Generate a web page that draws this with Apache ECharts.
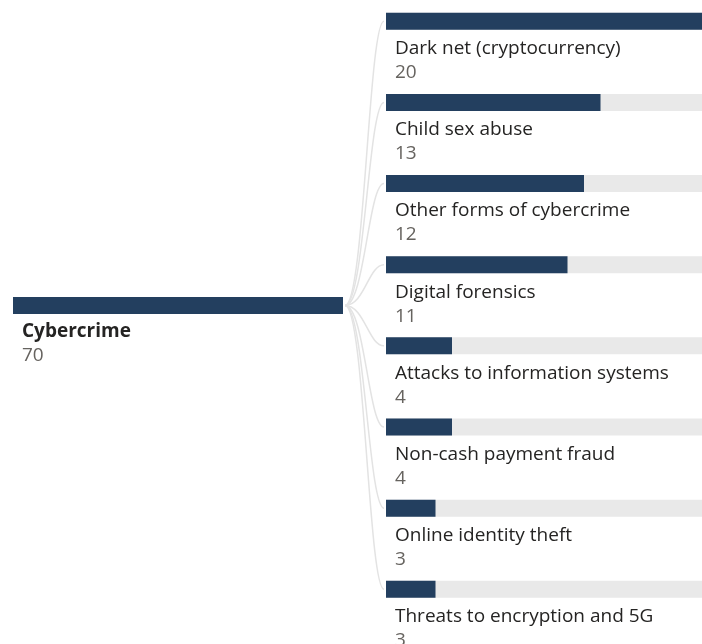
<!DOCTYPE html>
<html>
<head>
<meta charset="utf-8">
<style>
  html, body { margin: 0; padding: 0; background: #ffffff; }
  #chart { width: 702px; height: 644px; }
</style>
<script src="https://cdn.jsdelivr.net/npm/echarts@6/dist/echarts.min.js"></script>
</head>
<body>
<div id="chart"></div>
<script>
// Decomposition tree: total on the left, breakdown by crime type on the right
const rootName = 'Cybercrime';
const rootValue = 70;
const categories = [
  'Dark net (cryptocurrency)',
  'Child sex abuse',
  'Other forms of cybercrime',
  'Digital forensics',
  'Attacks to information systems',
  'Non-cash payment fraud',
  'Online identity theft',
  'Threats to encryption and 5G'
];
const values = [20, 13, 12, 11, 4, 4, 3, 3];

const FONT = '"Open Sans", "Noto Sans", sans-serif';
const NAVY = '#233f5f';
const TRACK = '#e9e9e9';
const LINK = '#e3e3e3';

const labelRich = {
  name: { fontFamily: FONT, fontSize: 19, lineHeight: 24, color: '#252423' },
  nameBold: { fontFamily: FONT, fontSize: 19, lineHeight: 24, color: '#252423', fontWeight: 'bold' },
  val: { fontFamily: FONT, fontSize: 19, lineHeight: 24, color: '#66635f' }
};

const maxChild = Math.max.apply(null, values);
const band = 81.14;
const trackWidth = 330;

const chart = echarts.init(document.getElementById('chart'), null, { renderer: 'canvas' });

const option = {
  animation: false,
  backgroundColor: '#ffffff',
  grid: [
    { left: 13, width: trackWidth, top: 280, height: 51, containLabel: false, outerBoundsMode: 'none' },
    { left: 386, width: trackWidth, top: 21.3, height: band * (categories.length - 1), containLabel: false, outerBoundsMode: 'none' }
  ],
  xAxis: [
    { gridIndex: 0, type: 'value', min: 0, max: rootValue, show: false },
    { gridIndex: 1, type: 'value', min: 0, max: maxChild, show: false }
  ],
  yAxis: [
    { gridIndex: 0, type: 'category', data: [rootName], show: false },
    { gridIndex: 1, type: 'category', data: categories, inverse: true, boundaryGap: false, show: false }
  ],
  series: [
    {
      type: 'bar',
      xAxisIndex: 0,
      yAxisIndex: 0,
      barWidth: 17,
      clip: false,
      data: [rootValue],
      itemStyle: { color: NAVY },
      label: {
        show: true,
        position: [9, 23],
        align: 'left',
        verticalAlign: 'top',
        formatter: function (p) { return '{nameBold|' + rootName + '}\n{val|' + p.value + '}'; },
        rich: labelRich
      },
      silent: true
    },
    {
      type: 'bar',
      xAxisIndex: 1,
      yAxisIndex: 1,
      barWidth: 17,
      clip: false,
      data: values,
      itemStyle: { color: NAVY },
      showBackground: true,
      backgroundStyle: { color: TRACK },
      label: {
        show: true,
        position: [9, 24],
        align: 'left',
        verticalAlign: 'top',
        formatter: function (p) { return '{name|' + p.name + '}\n{val|' + p.value + '}'; },
        rich: labelRich
      },
      silent: true
    }
  ]
};

chart.setOption(option);

// Curved links from the end of the total bar to the start of each child bar
const rootEnd = chart.convertToPixel({ gridIndex: 0 }, [rootValue, 0]);
const links = categories.map(function (c, i) {
  const end = chart.convertToPixel({ gridIndex: 1 }, [0, i]);
  const x0 = rootEnd[0] + 2, y0 = rootEnd[1];
  const x1 = end[0] - 2, y1 = end[1];
  const mid = x0 + (x1 - x0) * 0.5;
  return {
    type: 'bezierCurve',
    z: 0,
    silent: true,
    shape: { x1: x0, y1: y0, cpx1: mid, cpy1: y0, cpx2: mid + 4, cpy2: y1, x2: x1, y2: y1 },
    style: { stroke: LINK, lineWidth: 1.5, fill: null }
  };
});
chart.setOption({ graphic: links });
</script>
</body>
</html>
